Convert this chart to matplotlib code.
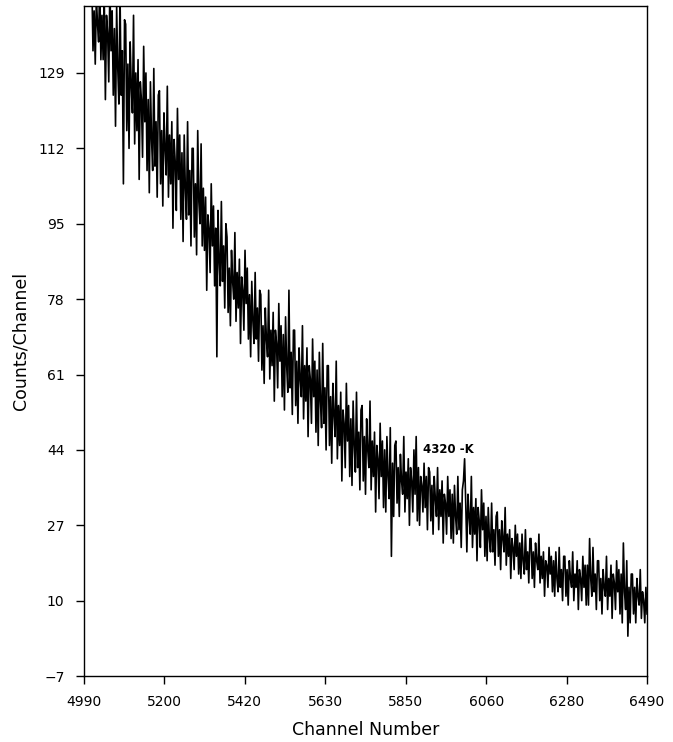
import numpy as np
import matplotlib
matplotlib.use('Agg')
import matplotlib.pyplot as plt

############################################################################
#                               Data
############################################################################

# channel grid of the spectrum (first channel, step)
ch_start = 5011
ch_step  = 3

# counts per channel (10 values = 30 channels per row)
counts = [
    149, 134, 143, 131, 146, 140, 136, 150, 132, 142,   # 5011
    132, 146, 123, 142, 138, 127, 149, 134, 143, 124,   # 5041
    139, 117, 144, 130, 122, 147, 124, 134, 104, 141,   # 5071
    140, 116, 131, 112, 136, 126, 120, 142, 113, 129,   # 5101
    116, 132, 105, 127, 123, 110, 135, 118, 129, 107,   # 5131
    123, 102, 127, 114, 107, 130, 108, 118, 101, 124,   # 5161
    125, 104, 116,  99, 120, 112, 106, 126, 101, 115,   # 5191
    104, 118,  94, 114, 109,  98, 121, 105, 115,  96,   # 5221
    111,  91, 115, 103,  96, 118,  97, 107,  90, 112,   # 5251
    112,  92, 104,  88, 116, 100,  95, 113,  90, 103,   # 5281
     89, 101,  80,  97,  94,  84, 104,  90,  99,  81,   # 5311
     94,  65,  98,  87,  81, 100,  82,  90,  76,  95,   # 5341
     92,  75,  85,  72,  89,  82,  78,  93,  73,  84,   # 5371
     76,  87,  68,  83,  80,  71,  89,  77,  85,  69,   # 5401
     79,  65,  82,  73,  68,  84,  69,  76,  64,  80,   # 5431
     79,  62,  72,  59,  76,  69,  65,  80,  60,  71,   # 5461
     63,  75,  55,  71,  68,  58,  77,  64,  72,  56,   # 5491
     70,  53,  74,  63,  57,  80,  58,  66,  52,  71,   # 5521
     71,  54,  64,  50,  67,  60,  56,  72,  51,  63,   # 5551
     55,  67,  47,  63,  60,  50,  69,  56,  64,  48,   # 5581
     62,  45,  66,  55,  49,  68,  50,  58,  44,  63,   # 5611
     63,  45,  56,  41,  59,  52,  47,  64,  42,  54,   # 5641
     45,  57,  37,  53,  50,  40,  59,  46,  54,  38,   # 5671
     51,  36,  55,  45,  39,  57,  40,  48,  35,  53,   # 5701
     54,  37,  47,  34,  51,  44,  40,  55,  35,  46,   # 5731
     38,  48,  30,  45,  42,  33,  50,  38,  46,  31,   # 5761
     44,  30,  47,  38,  33,  49,  20,  41,  29,  45,   # 5791
     46,  32,  40,  29,  43,  37,  34,  47,  30,  39,   # 5821
     33,  42,  27,  40,  37,  30,  44,  34,  47,  28,   # 5851
     40,  27,  38,  36,  30,  41,  31,  38,  26,  40,   # 5881
     39,  28,  36,  25,  38,  33,  29,  40,  26,  35,   # 5911
     29,  37,  23,  34,  32,  25,  38,  29,  35,  24,   # 5941
     34,  23,  36,  29,  25,  38,  26,  32,  22,  35,   # 5971
     37,  42,  32,  21,  34,  29,  25,  38,  22,  31,   # 6001
     25,  33,  19,  31,  28,  22,  35,  26,  32,  20,   # 6031
     29,  19,  31,  24,  21,  32,  21,  26,  18,  29,   # 6061
     30,  20,  26,  17,  28,  24,  21,  31,  18,  25,   # 6091
     20,  26,  15,  24,  22,  17,  27,  20,  25,  16,   # 6121
     23,  15,  25,  19,  16,  26,  17,  21,  14,  24,   # 6151
     24,  15,  21,  13,  23,  19,  17,  25,  14,  20,   # 6181
     15,  21,  11,  19,  18,  13,  22,  16,  20,  12,   # 6211
     19,  11,  21,  15,  12,  22,  13,  17,  10,  20,   # 6241
     20,  11,  17,   9,  19,  15,  13,  21,  10,  16,   # 6271
     13,  19,   8,  17,  15,  10,  20,  13,  18,   9,   # 6301
     18,   9,  24,  15,  11,  22,  12,  16,   8,  19,   # 6331
     19,  10,  15,   7,  17,  13,  11,  20,   8,  15,   # 6361
     11,  18,   6,  16,  14,   8,  19,  12,  17,   7,   # 6391
     16,   5,  23,  12,   8,  19,   2,  13,   5,  16,   # 6421
     16,   7,  13,   5,  15,  11,   9,  17,   6,  12,   # 6451
     10,   5,  13,   7,                                # 6481
]

channels = ch_start + ch_step*np.arange(len(counts))

x_ticks  = np.linspace(4990, 6490, 8)
x_labels = ['4990', '5200', '5420', '5630', '5850', '6060', '6280', '6490']
y_ticks  = [-7, 10, 27, 44, 61, 78, 95, 112, 129]

############################################################################
#                               Plot
############################################################################

fig = plt.figure(figsize=(6.73, 7.42), dpi=100)
ax  = fig.add_axes([0.1248, 0.0889, 0.8366, 0.9030])

ax.plot(channels, counts, color='black', lw=1.2)

ax.set_xlim(4990, 6490)
ax.set_ylim(-7, 144.1)

ax.set_xticks(x_ticks)
ax.set_xticklabels(x_labels)
ax.set_yticks(y_ticks)
ax.tick_params(direction='out', length=6, width=1, labelsize=10, pad=8)

for s in ax.spines.values():
    s.set_linewidth(1)

ax.set_xlabel('Channel Number', fontsize=12.5, labelpad=8)
ax.set_ylabel('Counts/Channel', fontsize=12.5, labelpad=6)

ax.text(5892, 44, '4320 -K', fontsize=8.5, fontweight='bold', va='center')

fig.savefig('out.png', dpi=100)
